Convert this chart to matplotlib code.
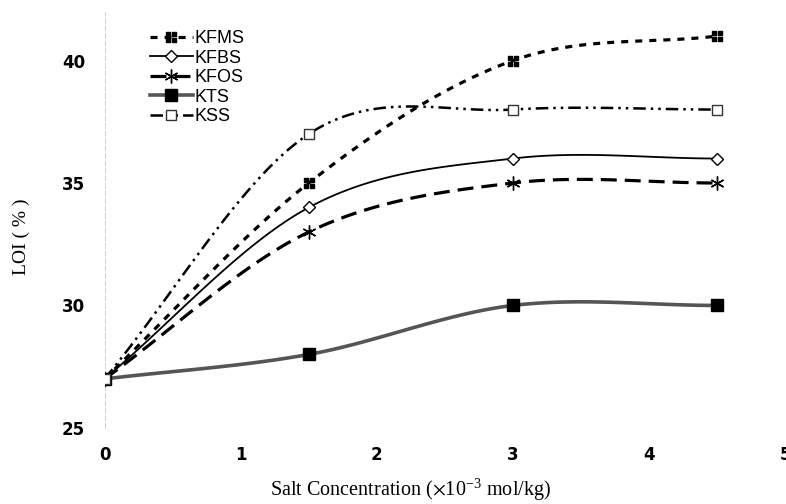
import numpy as np
import matplotlib
matplotlib.use('Agg')
import matplotlib.pyplot as plt
from matplotlib.path import Path

# data
salt = [0, 1.5, 3, 4.5]
kfms = [27, 35, 40, 41]
kfbs = [27, 34, 36, 36]
kfos = [27, 33, 35, 35]
kts = [27, 28, 30, 30]
kss = [27, 37, 38, 38]
labels = ['KFMS', 'KFBS', 'KFOS', 'KTS', 'KSS']
xticks = [0, 1, 2, 3, 4, 5]
yticks = [25, 30, 35, 40]

plt.rcParams['mathtext.fontset'] = 'stix'


def smooth(x, y, n=40):
    # excel-like smoothed line (catmull-rom through the points)
    x = np.asarray(x, float)
    y = np.asarray(y, float)
    px = np.concatenate([[2 * x[0] - x[1]], x, [2 * x[-1] - x[-2]]])
    py = np.concatenate([[2 * y[0] - y[1]], y, [2 * y[-1] - y[-2]]])
    xs, ys = [], []
    for i in range(1, len(px) - 2):
        t = np.linspace(0, 1, n)
        for p, out in ((px, xs), (py, ys)):
            p0, p1, p2, p3 = p[i - 1], p[i], p[i + 1], p[i + 2]
            c1 = p1 + (p2 - p0) / 6
            c2 = p2 - (p3 - p1) / 6
            out.extend((1 - t) ** 3 * p1 + 3 * (1 - t) ** 2 * t * c1
                       + 3 * (1 - t) * t ** 2 * c2 + t ** 3 * p2)
    return np.array(xs), np.array(ys)


# four little squares marker for KFMS
verts, codes = [], []
for cx, cy in [(-0.5, -0.5), (0.5, -0.5), (-0.5, 0.5), (0.5, 0.5)]:
    s = 0.38
    sq = [(cx - s, cy - s), (cx + s, cy - s), (cx + s, cy + s), (cx - s, cy + s), (cx - s, cy - s)]
    verts += sq
    codes += [Path.MOVETO, Path.LINETO, Path.LINETO, Path.LINETO, Path.CLOSEPOLY]
grid_marker = Path(verts, codes)

fig = plt.figure(figsize=(7.86, 5.04), dpi=100)
ax = fig.add_axes([0.133, 0.151, 0.866, 0.826])

series = [
    (kfms, dict(color='black', lw=2.3, ls=(0, (2.2, 2.2)), marker=grid_marker, ms=7,
                mfc='black', mec='black')),
    (kfbs, dict(color='black', lw=1.3, ls='-', marker='D', ms=6.5, mfc='white', mec='black', mew=1.0)),
    (kfos, dict(color='black', lw=2.3, ls=(0, (5, 2.5)), marker=(6, 2, 0), ms=10, mec='black', mew=1.0)),
    (kts, dict(color='#555555', lw=2.6, ls='-', marker='s', ms=8.5, mfc='black', mec='black')),
    (kss, dict(color='black', lw=1.8, ls=(0, (5, 2, 1, 2, 1, 2)), marker='s', ms=7.5,
               mfc='white', mec='#333333', mew=1.0)),
]

for (vals, st), lab in zip(series, labels):
    sx, sy = smooth(salt, vals)
    line_style = {k: v for k, v in st.items() if k in ('color', 'lw', 'ls')}
    ax.plot(sx, sy, **line_style)
    mk = {k: v for k, v in st.items() if k not in ('ls',)}
    mk['ls'] = 'none'
    ax.plot(salt, vals, **mk, zorder=3)
    # legend proxy
    ax.plot([], [], label=lab, **st)

ax.set_xlim(0, 5)
ax.set_ylim(25, 42)
ax.set_xticks(xticks)
ax.set_yticks(yticks)
for s in ['top', 'right', 'bottom']:
    ax.spines[s].set_visible(False)
ax.spines['left'].set_color('#c8c8c8')
ax.spines['left'].set_linewidth(0.6)
ax.spines['left'].set_linestyle((0, (6, 3)))
ax.tick_params(length=0, pad=14)
ax.tick_params(axis='x', pad=13)
for t in ax.get_xticklabels() + ax.get_yticklabels():
    t.set_fontfamily(['Liberation Sans Narrow', 'DejaVu Sans'])
    t.set_fontweight('bold')
    t.set_fontsize(12)

ax.set_xlabel(r'Salt Concentration ($\times$10$^{\mathregular{-3}}$ mol/kg)',
              fontfamily='Liberation Serif', fontsize=14.5)
ax.xaxis.set_label_coords(0.45, -0.118)
ax.set_ylabel('LOI ( % )', fontfamily='Liberation Serif', fontsize=14)
ax.yaxis.set_label_coords(-0.11, 0.46)

leg = ax.legend(loc='upper left', bbox_to_anchor=(0.045, 0.99), frameon=False,
                handlelength=2.4, handletextpad=0.1, labelspacing=0.14,
                borderpad=0.3, prop={'family': 'Liberation Sans', 'size': 13})

fig.savefig('out.png', dpi=100)
